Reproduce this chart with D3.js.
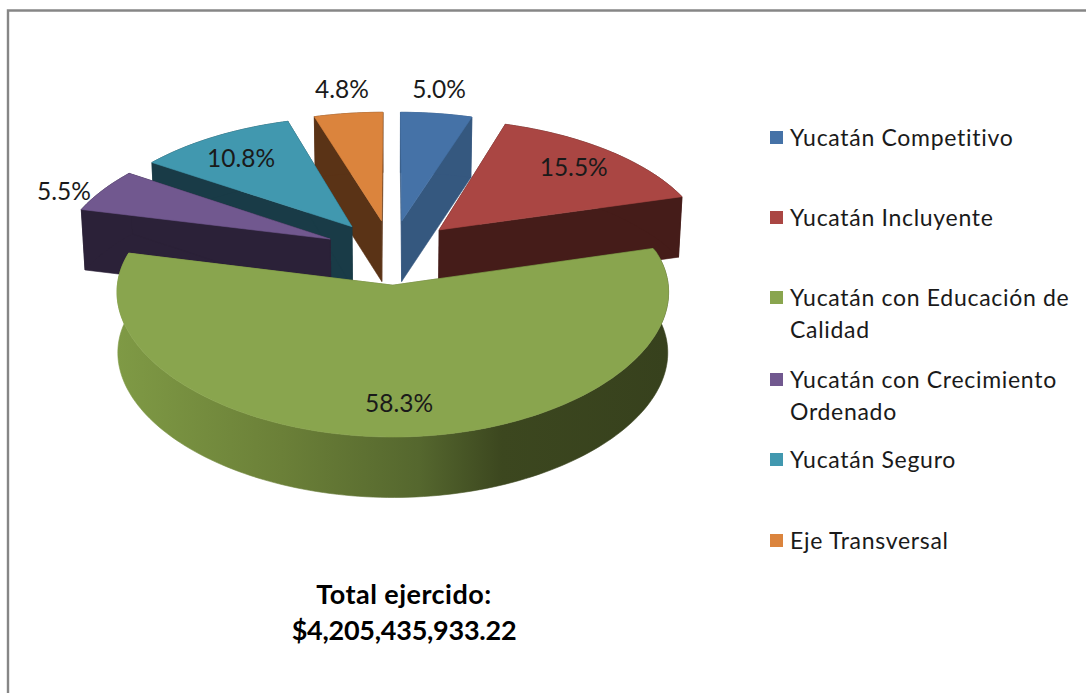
<!DOCTYPE html>
<html><head><meta charset="utf-8">
<script src="https://cdn.jsdelivr.net/npm/d3@7"></script>
<style>html,body{margin:0;padding:0;background:#fff;overflow:hidden}svg{display:block}
text{font-family:Lato,"Open Sans",sans-serif;fill:#1a1a1a}</style></head><body>
<script>
// data
const categories = ["Yucatán Competitivo","Yucatán Incluyente","Yucatán con Educación de Calidad","Yucatán con Crecimiento Ordenado","Yucatán Seguro","Eje Transversal"];
const shares = [5.0,15.5,58.3,5.5,10.8,4.8];
const legendLines = [["Yucatán Competitivo"],["Yucatán Incluyente"],["Yucatán con Educación de","Calidad"],["Yucatán con Crecimiento","Ordenado"],["Yucatán Seguro"],["Eje Transversal"]];
const totalLines = ["Total ejercido:","$4,205,435,933.22"];
// style
const topColors = ["#4572A7","#AA4643","#89A54E","#71588F","#4198AF","#DB843D"];
const wallColors = ["#35587f","#451c19","url(#greenWall)","#2b2138","#193b47","#5a3316"];
const paintOrder = [0,5,1,4,3,2];
const labelRadius = [1.26,0.77,0.794,1.2,0.743,1.26];
const labelNudge = [[-5,0],[2,0],[2,0],[4,10],[-6,0],[1,0]];
const legendRowY = [138,218,298,380,460,541];
const totalSpacing = [0.47,-0.25];
// 3-D view parameters
const view = {cx:391.5, cy:252, R:272, A:129.5, pxBack:0.15, pxFront:0.05, pyBack:0.125, pyFront:0.1, explode:0.25, depth:60.5, floorBack:0.988, floorFront:0.997};

const W=1086,H=693;
const svg=d3.select("body").append("svg").attr("width",W).attr("height",H);
const defs=svg.append("defs");
const g=defs.append("linearGradient").attr("id","greenWall").attr("gradientUnits","userSpaceOnUse").attr("x1",116).attr("x2",667).attr("y1",0).attr("y2",0);
[[0,"#7f9a45"],[0.3,"#6b8038"],[0.55,"#55672e"],[0.7,"#3c471f"],[1,"#37411d"]].forEach(([o,c])=>g.append("stop").attr("offset",o).attr("stop-color",c));

// frame
svg.append("path").attr("d",`M8,${H}V10.5H${W}`).attr("fill","none").attr("stroke","#868686").attr("stroke-width",2.4);

const arcs=d3.pie().sort(null).value(d=>d).startAngle(0).endAngle(2*Math.PI)(shares);
const line=d3.line();
function project(a,r,mid,lower){
  const X=Math.sin(mid)*view.explode+Math.sin(a)*r, Y=Math.cos(mid)*view.explode+Math.cos(a)*r;
  const px=Y>0?view.pxBack:view.pxFront, py=Y>0?view.pyBack:view.pyFront;
  let x=view.cx+X*view.R/(1+px*Y), y=view.cy-Y*view.A/(1+py*Y);
  if(lower){x=view.cx+(x-view.cx)*(Y>0?view.floorBack:view.floorFront); y+=view.depth;}
  return [x,y];
}
function rim(d,lower){
  const n=Math.max(6,Math.ceil((d.endAngle-d.startAngle)*40));
  const mid=(d.startAngle+d.endAngle)/2;
  return d3.range(n+1).map(i=>project(d.startAngle+(d.endAngle-d.startAngle)*i/n,1,mid,lower));
}
const layer=svg.append("g");
paintOrder.forEach(i=>{
  const d=arcs[i], mid=(d.startAngle+d.endAngle)/2, wall=wallColors[i];
  const A0=project(0,0,mid,false), A1=project(0,0,mid,true);
  const t=rim(d,false), b=rim(d,true);
  const s=layer.append("g");
  const fillPoly=(pts,c)=>s.append("path").attr("d",line(pts)+"Z").attr("fill",c).attr("stroke",c).attr("stroke-width",0.6);
  fillPoly([A0,t[0],b[0],A1],wall);
  fillPoly([A0,t[t.length-1],b[b.length-1],A1],wall);
  fillPoly(t.concat(b.slice().reverse()),wall);
  fillPoly([A0].concat(t),topColors[i]);
});
// data labels
const fmt=d3.format(".1f");
arcs.forEach((d,i)=>{
  const mid=(d.startAngle+d.endAngle)/2, p=project(mid,labelRadius[i],mid,false);
  svg.append("text").attr("x",p[0]+labelNudge[i][0]).attr("y",p[1]+labelNudge[i][1]).attr("dy","0.35em")
   .attr("text-anchor","middle").style("font-size","24.5px").text(fmt(d.data)+"%");
});
// legend
legendLines.forEach((ls,i)=>{
  svg.append("rect").attr("x",770).attr("y",legendRowY[i]-7).attr("width",13).attr("height",13).attr("fill",topColors[i]);
  ls.forEach((l,j)=>svg.append("text").attr("x",790).attr("y",legendRowY[i]+j*32).attr("dy","0.35em")
    .style("font-size","23px").style("letter-spacing","0.7px").text(l));
});
// total
totalLines.forEach((l,j)=>svg.append("text").attr("x",404).attr("y",595+j*36).attr("dy","0.35em").attr("text-anchor","middle")
  .style("font-size","27px").style("font-weight","700").style("letter-spacing",totalSpacing[j]+"px").style("fill","#000").text(l));
</script></body></html>
